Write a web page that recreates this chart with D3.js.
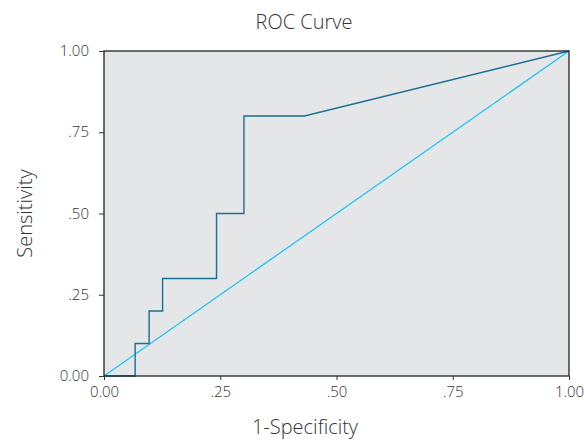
<!DOCTYPE html>
<html>
<head>
<meta charset="utf-8">
<script src="https://cdn.jsdelivr.net/npm/d3@7"></script>
<style>
  body { margin: 0; background: #fff; }
  text { font-family: "Open Sans", "Noto Sans", sans-serif; fill: #333; }
</style>
</head>
<body>
<div class="visHolder"></div>
<script>
const width = 584;
const height = 441;

// roc curve points
const fpr = [0, 0.067, 0.067, 0.097, 0.097, 0.126, 0.126, 0.242, 0.242, 0.301, 0.301, 0.431, 1];
const tpr = [0, 0, 0.1, 0.1, 0.2, 0.2, 0.3, 0.3, 0.5, 0.5, 0.8, 0.8, 1];
const refX = [0, 1];
const refY = [0, 1];
const tickVals = [0, 0.25, 0.5, 0.75, 1];
const tickLabels = ["0.00", ".25", ".50", ".75", "1.00"];

const margin = { left: 104, right: 15, top: 51, bottom: 65 };

const svg = d3.select(".visHolder")
  .append("svg")
  .attr("width", width)
  .attr("height", height);

const xScale = d3.scaleLinear().domain([0, 1]).range([margin.left, width - margin.right]);
const yScale = d3.scaleLinear().domain([0, 1]).range([height - margin.bottom, margin.top]);

svg.append("rect")
  .attr("x", xScale(0))
  .attr("y", yScale(1))
  .attr("width", xScale(1) - xScale(0))
  .attr("height", yScale(0) - yScale(1))
  .style("fill", "#e5e6e8");

const line = d3.line()
  .x((d, i) => xScale(d[0]))
  .y((d, i) => yScale(d[1]));

svg.append("path")
  .datum(refX.map((x, i) => [x, refY[i]]))
  .attr("d", line)
  .style("fill", "none")
  .style("stroke", "#1ec6f0")
  .style("stroke-width", 1.3);

svg.append("path")
  .datum(fpr.map((x, i) => [x, tpr[i]]))
  .attr("d", line)
  .style("fill", "none")
  .style("stroke", "#1a6f94")
  .style("stroke-width", 1.4);

// frame
svg.append("rect")
  .attr("x", xScale(0))
  .attr("y", yScale(1))
  .attr("width", xScale(1) - xScale(0))
  .attr("height", yScale(0) - yScale(1))
  .style("fill", "none")
  .style("stroke", "#222")
  .style("stroke-width", 1.3);

const xAxis = d3.axisBottom(xScale)
  .tickValues(tickVals)
  .tickFormat((d, i) => tickLabels[i])
  .tickSize(4)
  .tickPadding(6);

const yAxis = d3.axisLeft(yScale)
  .tickValues(tickVals)
  .tickFormat((d, i) => tickLabels[i])
  .tickSize(5)
  .tickPadding(10);

const gx = svg.append("g")
  .attr("transform", "translate(0," + yScale(0) + ")")
  .call(xAxis);

const gy = svg.append("g")
  .attr("transform", "translate(" + xScale(0) + ",0)")
  .call(yAxis);

[gx, gy].forEach(g => {
  g.select(".domain").remove();
  g.selectAll(".tick line").style("stroke", "#333");
  g.selectAll(".tick text")
    .style("font-size", "15px")
    .style("font-family", "'Open Sans', sans-serif")
    .style("font-weight", 300)
    .style("fill", "#333");
});
gy.selectAll(".tick text").attr("dy", "0.3em");

svg.append("text")
  .attr("x", 304)
  .attr("y", 29)
  .attr("text-anchor", "middle")
  .style("font-size", "20px")
  .style("font-weight", 300)
  .text("ROC Curve");

svg.append("text")
  .attr("x", 305)
  .attr("y", 434)
  .attr("text-anchor", "middle")
  .style("font-size", "20px")
  .style("font-weight", 300)
  .text("1-Specificity");

svg.append("text")
  .attr("transform", "rotate(-90)")
  .attr("x", -(yScale(0) + yScale(1)) / 2)
  .attr("y", 32)
  .attr("text-anchor", "middle")
  .style("font-size", "20px")
  .style("font-weight", 300)
  .text("Sensitivity");
</script>
</body>
</html>
